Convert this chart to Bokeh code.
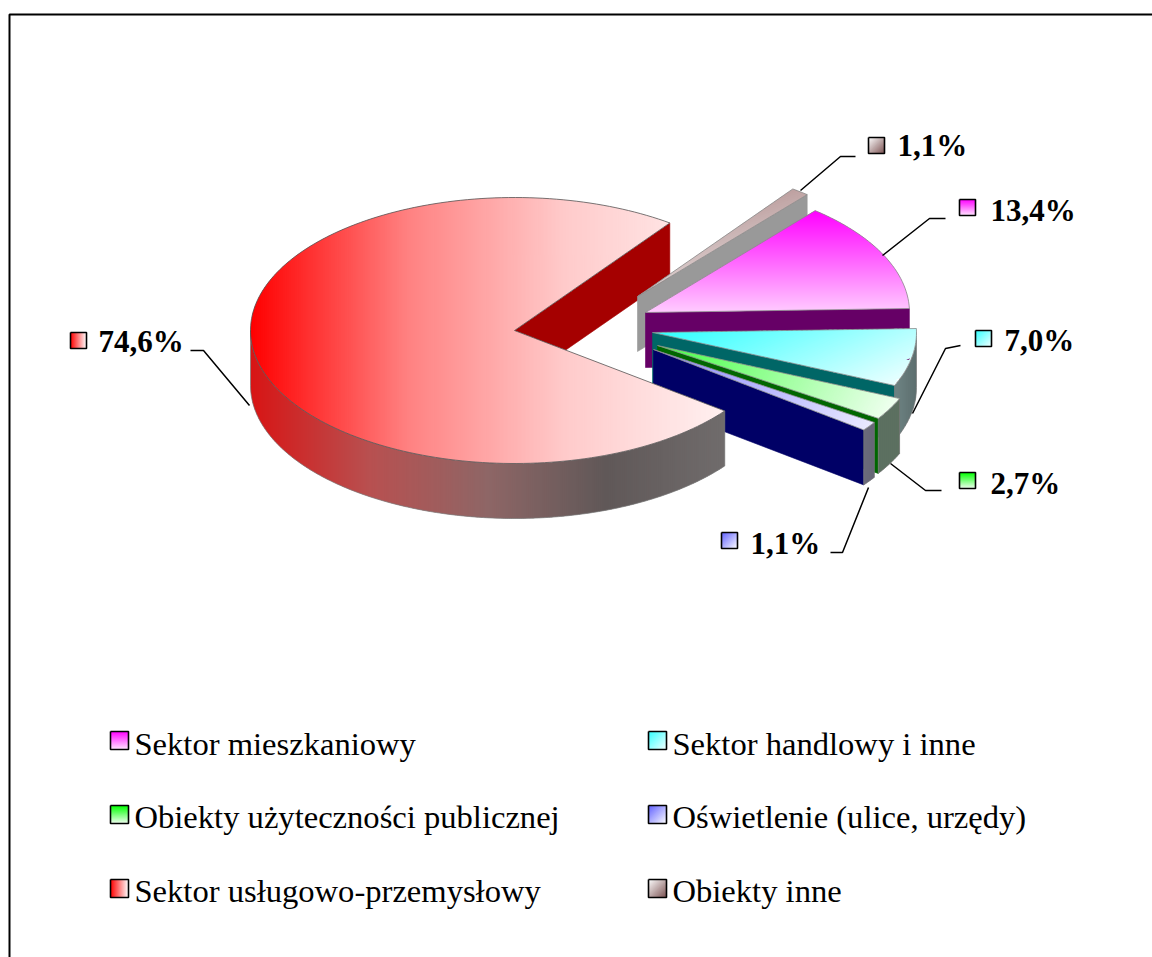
import math
from bokeh.plotting import figure
from bokeh.models import Range1d, ColumnDataSource
from bokeh.core.properties import value
from bokeh.embed import file_html
from bokeh.resources import INLINE

# ---- data -------------------------------------------------------------
SERIES = ["Sektor mieszkaniowy", "Sektor handlowy i inne", "Obiekty użyteczności publicznej",
          "Oświetlenie (ulice, urzędy)", "Sektor usługowo-przemysłowy", "Obiekty inne"]
VALUES = [13.4, 7.0, 2.7, 1.1, 74.6, 1.1]
VALUE_LABELS = ["13,4%", "7,0%", "2,7%", "1,1%", "74,6%", "1,1%"]

# ---- style / layout ---------------------------------------------------
FIRST_ANGLE = 50.0
RX, RY, DEPTH = 264.0, 133.0, 55.0
CENTER = (583.0, 326.0)
OFFSETS = [(62, -14), (69, 6), (74, 19), (70, 23), (-69, 4), (54, -30)]
CUT = ["#660066", "#006666", "#006600", "#000066", "#a50000", "#999999"]
TOP_DIR = [(0, 1), (0.45, 1), (1, 0.55), (1, 0.5), (1, 0), (0.3, 1)]
TOP_STOPS = [["#ff00ff", "#ffccff"], ["#2effff", "#ebffff"], ["#44ff44", "#f0fff0"],
             ["#8888ff", "#eaeaff"], ["#ff0000", "#ff8282", "#ffcbcb", "#fff0f0"], ["#bda0a0", "#dccfcf"]]
WALL_STOPS = [["#666666", "#666666"], ["#6f8484", "#5c6e6e"], ["#5c7060", "#5c7060"],
              ["#6c6c7c", "#666676"], ["#d81414", "#b85050", "#8e6666", "#605858", "#706c6c"], ["#777", "#777"]]
KEY_DIR = [(0, 1), (1, 1), (0, 1), (1, 1), (1, 0), (1, 1)]
KEY_STOPS = [["#ff00ff", "#ffe6ff"], ["#33ffff", "#f4ffff"], ["#00ff00", "#f2fff2"],
             ["#6060ff", "#ffffff"], ["#ff0000", "#ffffff"], ["#ffffff", "#7a5050"]]
LABEL_POS = [(990, 221), (1004, 351), (990, 494), (750, 554), (98, 352), (897, 156)]
LABEL_KEY = [(959, 199), (975, 330), (959, 472), (721, 532), (70, 332), (868, 137)]
LEADERS = [([945, 929, 882], [218, 218, 255]), ([960, 945, 912], [345, 348, 413]),
           ([941, 925, 890], [490, 490, 463]), ([830, 842, 868], [552, 552, 487]),
           ([190, 203, 249], [350, 350, 405]), ([855, 840, 800], [156, 156, 190])]
LEGEND_POS = [(134, 752), (672, 752), (134, 825), (672, 825), (134, 899), (672, 899)]
LEGEND_KEY_Y = [731, 731, 805, 805, 879, 879]
LABEL_SHIFT, LEGEND_SHIFT = -11, -9
FONT = value("Liberation Serif")

p = figure(width=1152, height=957, output_backend="svg", toolbar_location=None,
           x_range=Range1d(0, 1152), y_range=Range1d(957, 0), min_border=0)
p.axis.visible = False
p.grid.visible = False
p.outline_line_color = None
p.background_fill_color = "white"
p.border_fill_color = "white"


def hex_rgb(c):
    c = c.lstrip("#")
    if len(c) == 3:
        c = "".join(ch * 2 for ch in c)
    return [int(c[i:i + 2], 16) for i in (0, 2, 4)]


def ramp(stops, t):
    t = min(max(t, 0.0), 1.0) * (len(stops) - 1)
    i = min(int(t), len(stops) - 2)
    f = t - i
    a, b = hex_rgb(stops[i]), hex_rgb(stops[i + 1])
    return "#%02x%02x%02x" % tuple(round(a[k] + (b[k] - a[k]) * f) for k in range(3))


def clip(poly, d, limit, keep_above):
    """Sutherland-Hodgman against the half plane dot(P,d) >= / <= limit."""
    out = []
    n = len(poly)
    for i in range(n):
        a, b = poly[i], poly[(i + 1) % n]
        sa = a[0] * d[0] + a[1] * d[1] - limit
        sb = b[0] * d[0] + b[1] * d[1] - limit
        if not keep_above:
            sa, sb = -sa, -sb
        if sa >= 0:
            out.append(a)
        if (sa >= 0) != (sb >= 0):
            f = sa / (sa - sb)
            out.append((a[0] + (b[0] - a[0]) * f, a[1] + (b[1] - a[1]) * f))
    return out


def gradient(poly, direction, stops, step=2.0):
    """Fill a polygon with a linear colour ramp, as overlapping strips."""
    m = math.hypot(*direction)
    d = (direction[0] / m, direction[1] / m)
    proj = [q[0] * d[0] + q[1] * d[1] for q in poly]
    lo, hi = min(proj), max(proj)
    xs, ys, cs = [], [], []
    s = lo
    while s < hi:
        part = clip(clip(poly, d, s, True), d, s + step + 1.2, False)
        if len(part) >= 3:
            xs.append([q[0] for q in part])
            ys.append([q[1] for q in part])
            cs.append(ramp(stops, (s + step / 2 - lo) / (hi - lo)))
        s += step
    p.patches("xs", "ys", source=ColumnDataSource(dict(xs=xs, ys=ys, c=cs)),
              fill_color="c", line_color=None)


def rim(apex, deg, dz=0.0):
    t = math.radians(deg)
    return (apex[0] + RX * math.cos(t), apex[1] - RY * math.sin(t) + dz)


def arc(apex, a, b, dz=0.0):
    n = max(2, int(abs(a - b) / 1.5) + 1)
    return [rim(apex, a + (b - a) * i / n, dz) for i in range(n + 1)]


# slice geometry, from the values
slices = []
angle = FIRST_ANGLE
total = sum(VALUES)
for i, v in enumerate(VALUES):
    sweep = 360.0 * v / total
    apex = (CENTER[0] + OFFSETS[i][0], CENTER[1] + OFFSETS[i][1])
    slices.append((i, apex, angle, angle - sweep))
    angle -= sweep


def draw_cut(s):
    i, apex, a, b = s
    if math.cos(math.radians(b)) > 0:
        e = rim(apex, b)
        p.patch([apex[0], e[0], e[0], apex[0]], [apex[1], e[1], e[1] + DEPTH, apex[1] + DEPTH],
                fill_color=CUT[i], line_color=CUT[i], line_width=0.6)


def draw_body(s):
    i, apex, a, b = s
    hi, lo = min(a, 0.0), max(b, -180.0)
    if hi > lo:
        wall = arc(apex, hi, lo) + arc(apex, lo, hi, DEPTH)
        gradient(wall, (1, 0), WALL_STOPS[i])
        p.line([q[0] for q in wall + wall[:1]], [q[1] for q in wall + wall[:1]],
               line_color="#7a7a7a", line_width=0.7)
    top = [apex] + arc(apex, a, b)
    gradient(top, TOP_DIR[i], TOP_STOPS[i])
    p.line([q[0] for q in top + top[:1]], [q[1] for q in top + top[:1]],
           line_color="#555555" if i == 4 else "#8a8a8a", line_width=0.8)


# painter's order: the big slice's cut face first, its body last
draw_cut(slices[4])
for k in (5, 0, 1, 2, 3):
    draw_cut(slices[k])
    draw_body(slices[k])
draw_body(slices[4])


def key(x, y, size, i):
    box = [(x, y), (x + size, y), (x + size, y + size), (x, y + size)]
    gradient(box, KEY_DIR[i], KEY_STOPS[i], step=1.0)
    p.line([x, x + size, x + size, x, x], [y, y, y + size, y + size, y],
           line_color="black", line_width=1.6)


# leaders and value labels
for i in range(len(VALUES)):
    p.line(LEADERS[i][0], LEADERS[i][1], line_color="black", line_width=1.5)
    key(LABEL_KEY[i][0], LABEL_KEY[i][1], 16, i)
    p.text([LABEL_POS[i][0]], [LABEL_POS[i][1] + LABEL_SHIFT], text=[VALUE_LABELS[i]], text_font=FONT,
           text_font_size="31px", text_font_style="bold", text_color="black",
           text_baseline="alphabetic", text_align="left")

# legend
for i, name in enumerate(SERIES):
    x, y = LEGEND_POS[i]
    key(x - 24, LEGEND_KEY_Y[i], 18, i)
    p.text([x], [y + LEGEND_SHIFT], text=[name], text_font=FONT, text_font_size="32.6px", text_color="black",
           text_baseline="alphabetic", text_align="left")

# chart frame, running off the page at the right and at the bottom
p.line([9, 9, 1152], [957, 14, 14], line_color="black", line_width=2)

open("out.html", "w").write(file_html(p, INLINE))
